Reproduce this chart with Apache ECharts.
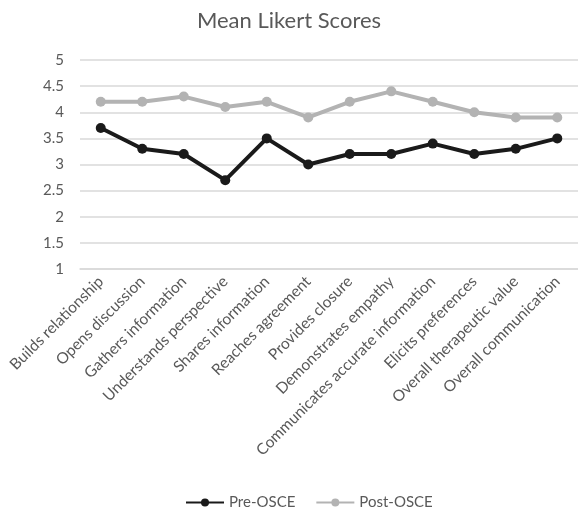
<!DOCTYPE html>
<html><head><meta charset="utf-8">
<script src="https://cdn.jsdelivr.net/npm/echarts@6/dist/echarts.min.js"></script>
<style>html,body{margin:0;padding:0;background:#fff}#c{width:578px;height:510px}</style>
</head><body><div id="c"></div>
<script>
var categories = ["Builds relationship","Opens discussion","Gathers information","Understands perspective","Shares information","Reaches agreement","Provides closure","Demonstrates empathy","Communicates accurate information","Elicits preferences","Overall therapeutic value","Overall communication"];
var preOSCE = [3.7,3.3,3.2,2.7,3.5,3.0,3.2,3.2,3.4,3.2,3.3,3.5];
var postOSCE = [4.2,4.2,4.3,4.1,4.2,3.9,4.2,4.4,4.2,4.0,3.9,3.9];
var font = "Lato, 'Open Sans', sans-serif";
var chart = echarts.init(document.getElementById('c'));
chart.setOption({
  animation:false,
  title:{text:"Mean Likert Scores",left:'center',top:5,textStyle:{fontFamily:font,fontSize:22,fontWeight:'normal',color:'#595959'}},
  legend:{top:490,left:180,itemWidth:38,itemHeight:10,itemGap:20,textStyle:{fontFamily:font,fontSize:15,color:'#595959'},data:["Pre-OSCE","Post-OSCE"]},
  grid:{left:80,right:0,top:60,bottom:241,containLabel:false},
  xAxis:{type:'category',data:categories,boundaryGap:true,
    axisLine:{lineStyle:{color:'#d9d9d9',width:1.5}},axisTick:{show:false},
    axisLabel:{rotate:45,interval:0,margin:10,fontFamily:font,fontSize:15.5,color:'#595959'}},
  yAxis:{type:'value',min:1,max:5,interval:0.5,
    axisLine:{show:false},axisTick:{show:false},
    splitLine:{lineStyle:{color:'#d9d9d9',width:1.5}},
    axisLabel:{margin:16,fontFamily:font,fontSize:15,color:'#595959'}},
  series:[
    {name:"Pre-OSCE",type:'line',data:preOSCE,symbol:'circle',symbolSize:10,lineStyle:{width:4,color:'#1a1a1a'},itemStyle:{color:'#1a1a1a'}},
    {name:"Post-OSCE",type:'line',data:postOSCE,symbol:'circle',symbolSize:10,lineStyle:{width:4,color:'#b3b3b3'},itemStyle:{color:'#b3b3b3'}}
  ]
});
</script></body></html>
